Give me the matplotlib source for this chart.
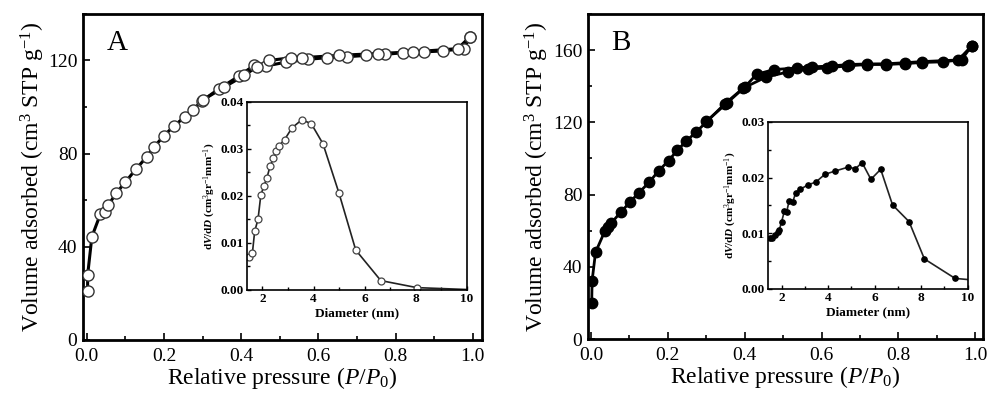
import matplotlib
matplotlib.use("Agg")
import matplotlib.pyplot as plt
from matplotlib.ticker import MultipleLocator

plt.rcParams['font.family'] = ['Liberation Serif', 'DejaVu Serif']
plt.rcParams['mathtext.fontset'] = 'custom'
plt.rcParams['mathtext.rm'] = 'Liberation Serif'
plt.rcParams['mathtext.it'] = 'Liberation Serif:italic'
plt.rcParams['mathtext.bf'] = 'Liberation Serif:bold'
plt.rcParams['mathtext.bfit'] = 'Liberation Serif:bold:italic'

# ---- Panel A: isotherm ----
a_ads_p = [0.002, 0.002, 0.013, 0.035, 0.047, 0.056, 0.076, 0.100, 0.127, 0.155, 0.175, 0.199,
           0.226, 0.253, 0.275, 0.297, 0.342, 0.394, 0.433, 0.463, 0.516, 0.572, 0.622, 0.674,
           0.724, 0.773, 0.820, 0.874, 0.922, 0.976, 0.993]
a_ads_v = [20.9, 27.8, 44.3, 54.0, 55.0, 58.0, 63.0, 67.8, 73.3, 78.6, 83.0, 87.6,
           91.9, 95.7, 98.8, 102.5, 107.8, 113.3, 117.9, 117.6, 119.3, 120.5, 121.2, 121.6,
           122.2, 122.6, 123.4, 123.7, 124.1, 125.1, 130.3]
a_des_p = [0.993, 0.961, 0.846, 0.753, 0.652, 0.557, 0.530, 0.471, 0.440, 0.408, 0.355, 0.300]
a_des_v = [130.3, 125.1, 123.7, 123.0, 122.2, 121.2, 121.2, 120.0, 117.3, 113.6, 108.5, 103.0]

# ---- Panel A inset: pore size distribution ----
a_d = [1.48, 1.61, 1.70, 1.83, 1.94, 2.06, 2.18, 2.30, 2.43, 2.53, 2.66, 2.87, 3.16, 3.54,
       3.91, 4.37, 4.99, 5.65, 6.63, 8.04, 10.0]
a_dv = [0.0071, 0.0078, 0.0125, 0.0150, 0.0202, 0.0221, 0.0239, 0.0263, 0.0280, 0.0295,
        0.0307, 0.0320, 0.0345, 0.0362, 0.0354, 0.0311, 0.0207, 0.0085, 0.0020, 0.0005, 0.0001]

# ---- Panel B: isotherm ----
b_ads_p = [0.002, 0.003, 0.012, 0.036, 0.045, 0.053, 0.077, 0.101, 0.125, 0.151, 0.176, 0.202,
           0.225, 0.248, 0.274, 0.301, 0.348, 0.396, 0.456, 0.513, 0.565, 0.614, 0.666, 0.717,
           0.767, 0.817, 0.860, 0.916, 0.955, 0.990]
b_ads_v = [19.8, 32.3, 48.1, 59.7, 62.1, 64.3, 70.1, 75.7, 81.1, 86.7, 93.1, 98.8,
           104.6, 109.6, 114.7, 120.3, 130.2, 138.9, 145.1, 147.9, 149.4, 150.1, 151.2, 152.0,
           152.0, 152.5, 153.1, 153.5, 154.4, 162.2]
b_des_p = [0.990, 0.964, 0.860, 0.817, 0.767, 0.717, 0.670, 0.626, 0.574, 0.536, 0.476, 0.431,
           0.400, 0.353, 0.300]
b_des_v = [162.2, 154.6, 153.6, 153.0, 152.4, 152.3, 152.0, 151.2, 150.7, 150.1, 149.2, 146.6,
           139.5, 130.5, 120.5]

# ---- Panel B inset ----
b_d = [1.49, 1.59, 1.71, 1.83, 1.90, 2.00, 2.12, 2.22, 2.32, 2.48, 2.61, 2.80, 3.13, 3.47,
       3.86, 4.31, 4.87, 5.17, 5.46, 5.84, 6.26, 6.77, 7.48, 8.14, 9.46, 10.0]
b_dv = [0.0092, 0.0092, 0.0097, 0.0103, 0.0106, 0.0121, 0.0140, 0.0139, 0.0158, 0.0157,
        0.0173, 0.0179, 0.0187, 0.0192, 0.0206, 0.0212, 0.0219, 0.0216, 0.0227, 0.0197,
        0.0215, 0.0151, 0.0121, 0.0054, 0.0019, 0.0017]

main_xticks = [0.0, 0.2, 0.4, 0.6, 0.8, 1.0]
a_yticks = [0, 40, 80, 120]
b_yticks = [0, 40, 80, 120, 160]

fig = plt.figure(figsize=(9.88, 3.98), dpi=100)

def style_main(ax, yticks, ylim, ymin_step):
    ax.set_xlim(-0.01, 1.024)
    ax.set_ylim(*ylim)
    ax.set_xticks(main_xticks)
    ax.set_xticklabels([f"{t:.1f}" for t in main_xticks])
    ax.set_yticks(yticks)
    ax.xaxis.set_minor_locator(MultipleLocator(0.1))
    ax.yaxis.set_minor_locator(MultipleLocator(ymin_step))
    ax.tick_params(which='both', direction='in', top=False, right=False, labelsize=14, width=1.2)
    ax.tick_params(which='major', length=5)
    ax.tick_params(which='minor', length=3)
    ax.tick_params(axis='x', which='major', pad=6)
    ax.tick_params(axis='y', which='major', pad=4)
    for s in ax.spines.values():
        s.set_linewidth(2.0)
    ax.set_xlabel(r"Relative pressure ($P$/$P_{\mathit{0}}$)", fontsize=17, labelpad=0)
    ax.set_ylabel(r"Volume adsorbed (cm$^3$ STP g$^{-1}$)", fontsize=17, labelpad=1)

def style_inset(ax, ylim, yticks, yfmt):
    ax.set_xlim(1.4, 10)
    ax.set_ylim(*ylim)
    ax.set_xticks([2, 4, 6, 8, 10])
    ax.xaxis.set_minor_locator(MultipleLocator(1))
    ax.set_yticks(yticks)
    ax.set_yticklabels([yfmt.format(t) for t in yticks])
    ax.yaxis.set_minor_locator(MultipleLocator(yticks[1] / 2))
    ax.tick_params(which='both', direction='in', labelsize=9.5, width=1.0)
    ax.tick_params(which='major', length=3, pad=2)
    ax.tick_params(which='minor', length=2)
    for lab in ax.get_xticklabels() + ax.get_yticklabels():
        lab.set_fontweight('bold')
    for s in ax.spines.values():
        s.set_linewidth(1.2)
    ax.set_xlabel("Diameter (nm)", fontsize=9.5, fontweight='bold', labelpad=2)
    ax.set_ylabel(r"$\mathbf{d}\boldsymbol{V}\mathbf{/d}\boldsymbol{D}$ (cm$^3$gr$^{-1}$mm$^{-1}$)",
                  fontsize=8, fontweight='bold', labelpad=2)

# Panel A
axA = fig.add_axes([0.084, 0.146, 0.404, 0.819])
axA.plot(a_ads_p, a_ads_v, '-', color='black', lw=2.2, zorder=2)
axA.plot(a_des_p, a_des_v, '-', color='black', lw=2.2, zorder=2)
axA.plot(a_ads_p, a_ads_v, 'o', mfc='white', mec='#333333', ms=8, mew=1.0, ls='none', zorder=3)
axA.plot(a_des_p, a_des_v, 'o', mfc='white', mec='#333333', ms=8, mew=1.0, ls='none', zorder=3)
style_main(axA, a_yticks, (0, 140), 20)
axA.text(0.06, 0.95, "A", transform=axA.transAxes, fontsize=21, va='top', ha='left')

insA = fig.add_axes([0.250, 0.2714, 0.2227, 0.4724])
insA.plot(a_d, a_dv, '-', color='#222222', lw=1.2, marker='o', mfc='white', mec='#444444',
          ms=5, mew=0.9, markevery=list(range(len(a_d) - 1)))
style_inset(insA, (0, 0.04), [0.0, 0.01, 0.02, 0.03, 0.04], "{:.2f}")

# Panel B
axB = fig.add_axes([0.595, 0.148, 0.400, 0.817])
axB.plot(b_ads_p, b_ads_v, '-', color='black', lw=2.0, zorder=2)
axB.plot(b_des_p, b_des_v, '-', color='black', lw=2.0, zorder=2)
axB.plot(b_ads_p, b_ads_v, 'o', color='black', ms=7.5, ls='none', zorder=3)
axB.plot(b_des_p, b_des_v, 'o', color='black', ms=7.5, ls='none', zorder=3)
style_main(axB, b_yticks, (0, 180), 20)
axB.set_xlim(-0.008, 1.02)
axB.text(0.06, 0.95, "B", transform=axB.transAxes, fontsize=21, va='top', ha='left')

insB = fig.add_axes([0.777, 0.2739, 0.2024, 0.4196])
insB.plot(b_d, b_dv, '-', color='#222222', lw=1.2, marker='o', mfc='black', mec='black',
          ms=3.8, markevery=list(range(len(b_d) - 1)))
style_inset(insB, (0, 0.03), [0.0, 0.01, 0.02, 0.03], "{:.2f}")

fig.savefig("out.png", dpi=100)
